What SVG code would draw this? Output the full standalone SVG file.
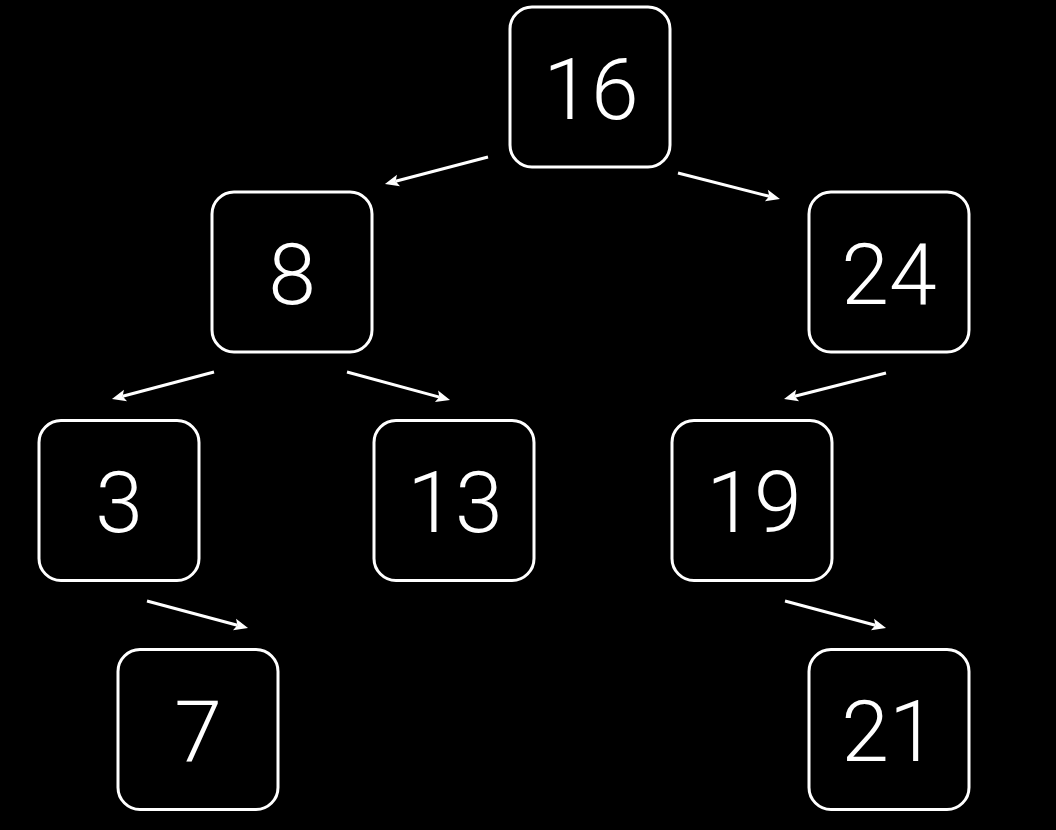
<svg xmlns="http://www.w3.org/2000/svg" width="1056" height="830" viewBox="0 0 1056 830">
<style>
.box{fill:#000;stroke:#fff;stroke-width:3}
.lbl{fill:#fff;font-family:Roboto,"Liberation Sans",sans-serif;font-weight:300;font-size:86px;text-anchor:middle}
.edge{stroke:#fff;stroke-width:3;fill:none;marker-end:url(#ah)}
</style>
<defs>
<marker id="ah" markerUnits="userSpaceOnUse" markerWidth="16" markerHeight="14" refX="3" refY="7" orient="auto" overflow="visible">
<path d="M0,1 L14,7 L0,13 L3,7 z" fill="#fff"/>
</marker>
</defs>
<rect x="0" y="0" width="1056" height="830" fill="#000"/>
<g id="edges">
<line class="edge" x1="488" y1="157" x2="395.6" y2="181.2"/>
<line class="edge" x1="678" y1="173" x2="769.3" y2="196.3"/>
<line class="edge" x1="214" y1="372" x2="122.6" y2="396.2"/>
<line class="edge" x1="347" y1="372" x2="439.4" y2="397.1"/>
<line class="edge" x1="886" y1="373" x2="794.7" y2="396.3"/>
<line class="edge" x1="147" y1="601" x2="237.4" y2="625.2"/>
<line class="edge" x1="785" y1="601" x2="875.4" y2="625.2"/>
</g>
<g id="n16"><rect class="box" x="510" y="7" width="160" height="160" rx="22"/><text class="lbl" x="591" y="119">16</text></g>
<g id="n8"><rect class="box" x="212" y="192" width="160" height="160" rx="22"/><text class="lbl" x="292" y="304">8</text></g>
<g id="n24"><rect class="box" x="809" y="192" width="160" height="160" rx="22"/><text class="lbl" x="889" y="304">24</text></g>
<g id="n3"><rect class="box" x="39" y="420.5" width="160" height="160" rx="22"/><text class="lbl" x="119" y="532">3</text></g>
<g id="n13"><rect class="box" x="374" y="420.5" width="160" height="160" rx="22"/><text class="lbl" x="455" y="532">13</text></g>
<g id="n19"><rect class="box" x="672" y="420.5" width="160" height="160" rx="22"/><text class="lbl" x="754" y="532">19</text></g>
<g id="n7"><rect class="box" x="118" y="649.5" width="160" height="160" rx="22"/><text class="lbl" x="198" y="761">7</text></g>
<g id="n21"><rect class="box" x="809" y="649.5" width="160" height="160" rx="22"/><text class="lbl" x="889" y="761">21</text></g>
</svg>
